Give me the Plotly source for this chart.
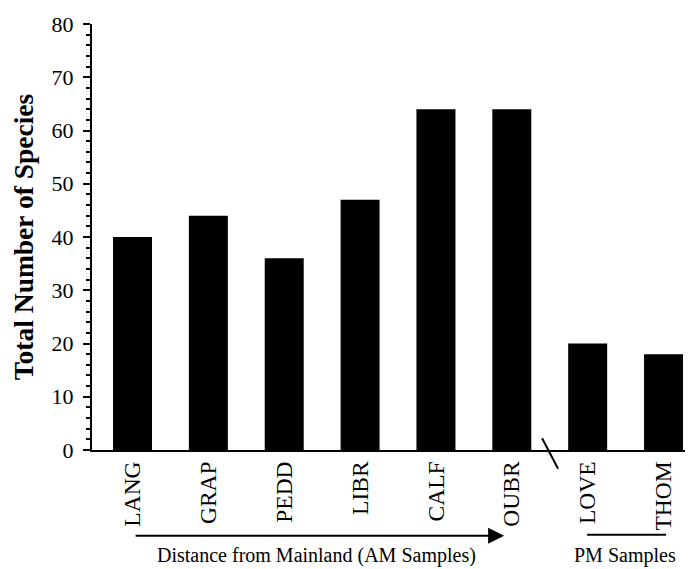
import plotly.graph_objects as go

categories = ["LANG", "GRAP", "PEDD", "LIBR", "CALF", "OUBR", "LOVE", "THOM"]
species = [40, 44, 36, 47, 64, 64, 20, 18]
y_ticks = [0, 10, 20, 30, 40, 50, 60, 70, 80]

FONT = "Liberation Serif"

fig = go.Figure(
    go.Bar(
        x=list(range(len(categories))),
        y=species,
        width=0.514,
        marker=dict(color="black", line=dict(width=0)),
    )
)

fig.update_layout(
    width=699,
    height=569,
    margin=dict(l=92, r=14, t=17, b=119),
    plot_bgcolor="white",
    paper_bgcolor="white",
    showlegend=False,
    font=dict(family=FONT, color="black"),
)

fig.update_xaxes(
    range=[-0.534, 7.283],
    tickvals=list(range(len(categories))),
    ticktext=categories,
    tickangle=-90,
    tickfont=dict(family=FONT, size=23.5, color="black"),
    showline=True,
    linecolor="black",
    linewidth=2,
    ticks="",
    showgrid=False,
    zeroline=False,
)

fig.update_yaxes(
    range=[0, 80],
    tickvals=y_ticks,
    tickfont=dict(family=FONT, size=22, color="black"),
    showline=True,
    linecolor="black",
    linewidth=2,
    ticks="outside",
    ticklen=7,
    tickwidth=1.5,
    tickcolor="black",
    ticklabelstandoff=5,
    minor=dict(dtick=2, ticks="outside", ticklen=4, tickwidth=1.5, tickcolor="black"),
    showgrid=False,
    zeroline=False,
    title=dict(
        text="<b>Total Number of Species</b>",
        font=dict(family=FONT, size=27.5, color="black"),
        standoff=10,
    ),
)

# Arrow under AM samples
fig.add_annotation(
    x=0.695, y=-0.201, xref="paper", yref="paper",
    ax=-370, ay=0,
    showarrow=True, arrowhead=2, arrowsize=1.6, arrowwidth=2, arrowcolor="black",
    text="",
)
fig.add_annotation(
    x=0.379, y=-0.247, xref="paper", yref="paper",
    text="Distance from Mainland (AM Samples)",
    showarrow=False, font=dict(family=FONT, size=20, color="black"),
    xanchor="center", yanchor="middle",
)
# PM line and label
fig.add_shape(
    type="line", xref="paper", yref="paper",
    x0=0.835, x1=0.968, y0=-0.199, y1=-0.199,
    line=dict(color="black", width=2),
)
fig.add_annotation(
    x=0.899, y=-0.247, xref="paper", yref="paper",
    text="PM Samples",
    showarrow=False, font=dict(family=FONT, size=20, color="black"),
    xanchor="center", yanchor="middle",
)
# Axis break mark
fig.add_shape(
    type="line", xref="paper", yref="paper",
    x0=0.759, y0=0.0277, x1=0.786, y1=-0.0439,
    line=dict(color="black", width=2),
)

fig.write_html("out.html")
